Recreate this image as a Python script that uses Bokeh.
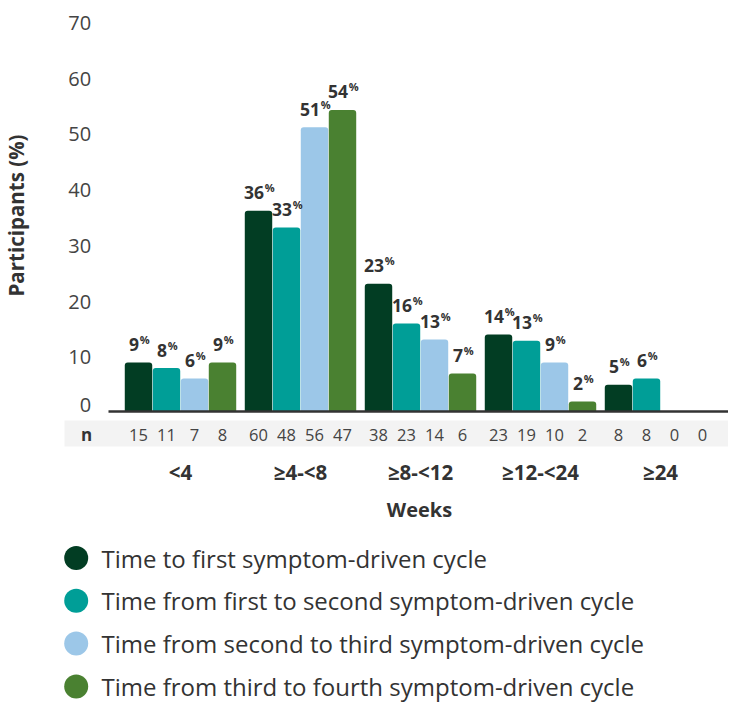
import math
from bokeh.plotting import figure
from bokeh.models import Range1d
from bokeh.core.properties import value
from bokeh.embed import file_html
from bokeh.resources import INLINE

# ---------------- data ----------------
categories = ["<4", "≥4-<8", "≥8-<12", "≥12-<24", "≥24"]
series_names = [
    "Time to first symptom-driven cycle",
    "Time from first to second symptom-driven cycle",
    "Time from second to third symptom-driven cycle",
    "Time from third to fourth symptom-driven cycle",
]
colors = ["#023d23", "#009e97", "#9cc7e8", "#4a8131"]

# bar heights (participants %)
s1_pct = [8.8, 36.0, 22.9, 13.8, 4.8]
s2_pct = [7.8, 33.0, 15.8, 12.7, 5.9]
s3_pct = [5.9, 51.0, 12.9, 8.8, 0.0]
s4_pct = [8.8, 54.1, 6.8, 1.8, 0.0]

# printed labels
s1_label = [9, 36, 23, 14, 5]
s2_label = [8, 33, 16, 13, 6]
s3_label = [6, 51, 13, 9, None]
s4_label = [9, 54, 7, 2, None]

# n per bar
s1_n = [15, 60, 38, 23, 8]
s2_n = [11, 48, 23, 19, 8]
s3_n = [7, 56, 14, 10, 0]
s4_n = [8, 47, 6, 2, 0]

y_ticks = [0, 10, 20, 30, 40, 50, 60, 70]

pct_series = [s1_pct, s2_pct, s3_pct, s4_pct]
label_series = [s1_label, s2_label, s3_label, s4_label]
n_series = [s1_n, s2_n, s3_n, s4_n]

# ---------------- layout ----------------
W, H = 728, 702
GROUP_PX = 120.0
G0_PX = 180.0
ZERO_PY = 411.0
PX_PER_UNIT = 5.575
BW = 28.0 / GROUP_PX
FONT = value("Open Sans")
DARK = "#333333"

p = figure(
    width=W, height=H,
    x_range=Range1d(-G0_PX / GROUP_PX, (W - G0_PX) / GROUP_PX),
    y_range=Range1d(-(H - ZERO_PY) / PX_PER_UNIT, ZERO_PY / PX_PER_UNIT),
    output_backend="svg", toolbar_location=None,
    x_axis_location=None, y_axis_location=None,
    min_border=0, outline_line_color=None,
)
p.grid.visible = False
p.background_fill_color = "white"
p.border_fill_color = "white"
p.extra_x_ranges = {"px": Range1d(0, W)}
p.extra_y_ranges = {"px": Range1d(H, 0)}

# n band
p.quad(left=[64], right=[730], top=[420], bottom=[446],
       fill_color="#f3f3f3", line_color=None,
       x_range_name="px", y_range_name="px")

# bars
for j, (vals, col) in enumerate(zip(pct_series, colors)):
    xs = [g + (j - 1.5) * BW for g, v in enumerate(vals) if v > 0]
    tops = [v for v in vals if v > 0]
    p.vbar(x=xs, top=tops, bottom=0, width=BW * 0.98,
           fill_color=col, line_color=None, border_radius=(3, 3, 0, 0))

# baseline
p.segment(x0=[108], x1=[732], y0=[0], y1=[0], line_color=DARK,
          line_width=2.5, x_range_name="px")

# value labels
for j, (vals, labs) in enumerate(zip(pct_series, label_series)):
    xs, ys, txt, offs = [], [], [], []
    for g, (v, lab) in enumerate(zip(vals, labs)):
        if lab is None:
            continue
        xs.append(g + (j - 1.5) * BW)
        ys.append(v)
        txt.append(str(lab))
        offs.append((len(str(lab)) * 10.0 - 9.0) / 2.0)
    p.text(x=xs, y=ys, text=txt, x_offset=offs, y_offset=-18,
           text_align="right", text_baseline="middle",
           text_font=FONT, text_font_style="bold", text_font_size="17.5px",
           text_color=DARK)
    p.text(x=xs, y=ys, text=["%"] * len(xs), x_offset=[o + 0.7 for o in offs],
           y_offset=-23, text_align="left", text_baseline="middle",
           text_font=FONT, text_font_style="bold", text_font_size="11px",
           text_color=DARK)

# y tick labels
p.text(x=[90.7] * len(y_ticks), y=y_ticks, text=[str(t) for t in y_ticks],
       y_offset=[-7 if t == 0 else 1.5 for t in y_ticks],
       text_align="right", text_baseline="middle",
       text_font=FONT, text_font_size="20px", text_color="#444444",
       x_range_name="px")

# y axis title
p.text(x=[15], y=[215], text=["Participants (%)"], angle=math.pi / 2,
       text_align="center", text_baseline="middle",
       text_font=FONT, text_font_style="bold", text_font_size="20.5px",
       text_color=DARK, x_range_name="px", y_range_name="px")

# n row
p.text(x=[86], y=[434], text=["n"], text_align="center", text_baseline="middle",
       text_font=FONT, text_font_style="bold", text_font_size="17px",
       text_color=DARK, x_range_name="px", y_range_name="px")
for j, ns in enumerate(n_series):
    p.text(x=[g + (j - 1.5) * BW for g in range(len(ns))], y=[434] * len(ns),
           text=[str(n) for n in ns], text_align="center", text_baseline="middle",
           text_font=FONT, text_font_size="16.5px", text_color="#444444",
           y_range_name="px")

# category labels
p.text(x=list(range(len(categories))), y=[471] * len(categories), text=categories,
       text_align="center", text_baseline="middle",
       text_font=FONT, text_font_style="bold", text_font_size="20.5px",
       text_color=DARK, y_range_name="px")

# x axis title
p.text(x=[419], y=[509], text=["Weeks"], text_align="center", text_baseline="middle",
       text_font=FONT, text_font_style="bold", text_font_size="20px",
       text_color=DARK, x_range_name="px", y_range_name="px")

# legend
leg_y = [557.5 + 42.8 * k for k in range(len(series_names))]
p.scatter(x=[75.7] * len(series_names), y=leg_y, size=24,
          marker="circle", fill_color=colors, line_color=None,
          x_range_name="px", y_range_name="px")
p.text(x=[101] * len(series_names), y=leg_y, text=series_names,
       text_align="left", text_baseline="middle",
       text_font=FONT, text_font_size="24px", text_color=DARK,
       x_range_name="px", y_range_name="px")

open("out.html", "w").write(file_html(p, INLINE))
